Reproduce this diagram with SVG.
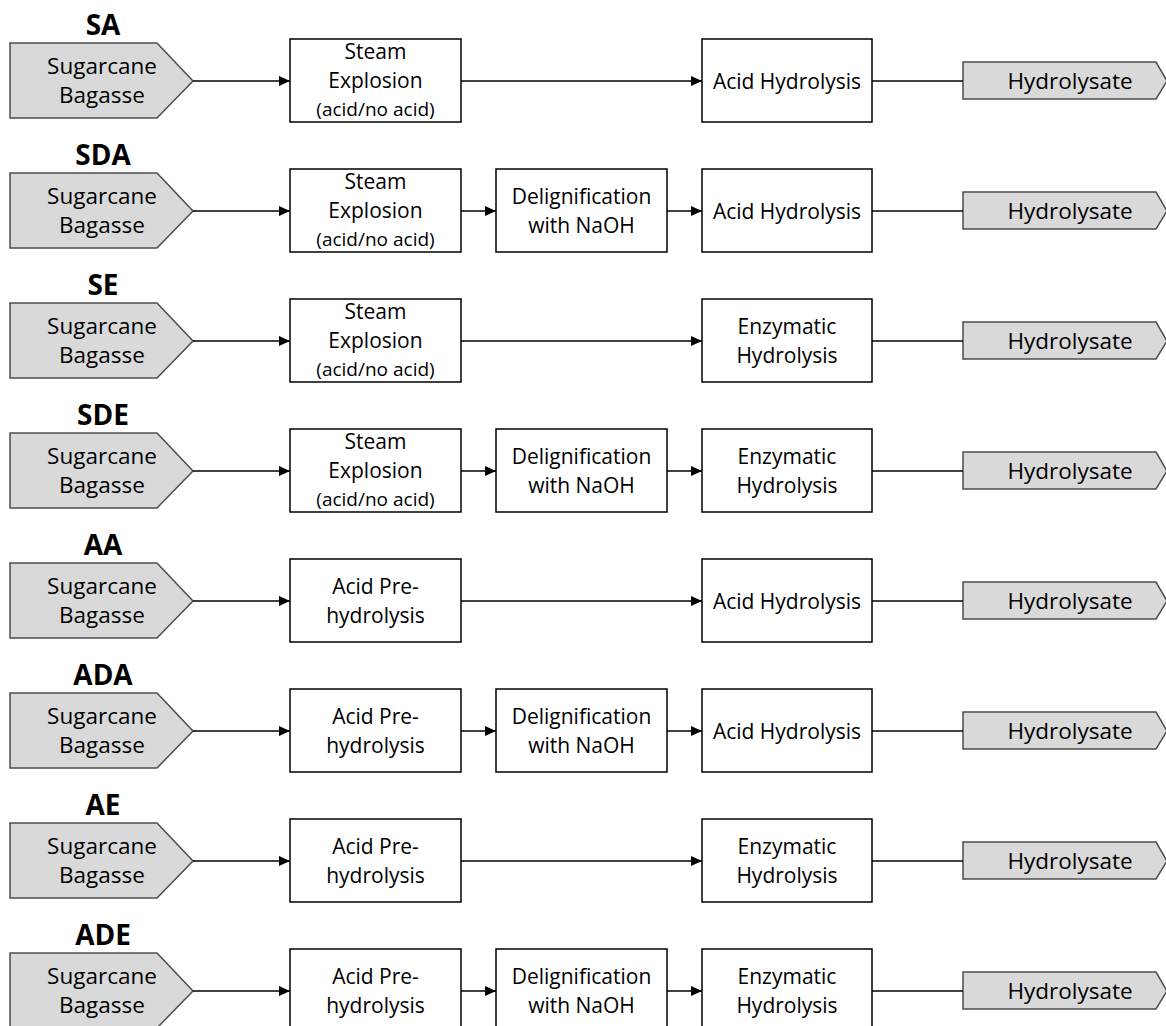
<svg xmlns="http://www.w3.org/2000/svg" width="1166" height="1026" viewBox="0 0 1166 1026">
<defs>
<style>
.lbl{font-family:"Open Sans","Liberation Sans",sans-serif;font-weight:bold;font-size:28px;fill:#000;text-anchor:middle}
.t{font-family:"Open Sans","Liberation Sans",sans-serif;font-size:21px;fill:#000;text-anchor:middle}
.g{font-family:"Open Sans","Liberation Sans",sans-serif;font-size:22.5px;fill:#000;text-anchor:middle}
.s{font-family:"Open Sans","Liberation Sans",sans-serif;font-size:19px;fill:#000;text-anchor:middle}
.src polygon,.snk polygon{fill:#d9d9d9;stroke:#4d4d4d;stroke-width:1.5}
.box rect{fill:#fff;stroke:#000;stroke-width:1.5}
.c line{stroke:#000;stroke-width:1.5;fill:none}
.a{marker-end:url(#arr)}
</style>
<marker id="arr" markerUnits="userSpaceOnUse" markerWidth="11" markerHeight="10" refX="11" refY="5" orient="auto"><path d="M0,0 L11,5 L0,10 z" fill="#000"/></marker>
</defs>
<rect width="1166" height="1026" fill="#fff"/>

<g id="row-sa" transform="translate(0,0)">
<g id="sa-label"><text class="lbl" x="103" y="35">SA</text></g>
<g id="sa-src" class="src"><polygon points="10,43 157,43 193,81 157,118 10,118"/><text class="g" x="102" y="74">Sugarcane</text><text class="g" x="102" y="103">Bagasse</text></g>
<g id="sa-pre" class="box"><rect x="290" y="39" width="171" height="83"/><text class="t" x="375.5" y="59">Steam</text><text class="t" x="375.5" y="88">Explosion</text><text class="s" x="375.5" y="115.5">(acid/no acid)</text></g>
<g id="sa-hyd" class="box"><rect x="702" y="39" width="170" height="83"/><text class="t" x="787" y="88.5">Acid Hydrolysis</text></g>
<g id="sa-out" class="snk"><polygon points="963,62 1156,62 1167,81 1156,99 963,99"/><text class="g" x="1070" y="89">Hydrolysate</text></g>
</g>

<g id="row-sda" transform="translate(0,130)">
<g id="sda-label"><text class="lbl" x="103" y="35">SDA</text></g>
<g id="sda-src" class="src"><polygon points="10,43 157,43 193,81 157,118 10,118"/><text class="g" x="102" y="74">Sugarcane</text><text class="g" x="102" y="103">Bagasse</text></g>
<g id="sda-pre" class="box"><rect x="290" y="39" width="171" height="83"/><text class="t" x="375.5" y="59">Steam</text><text class="t" x="375.5" y="88">Explosion</text><text class="s" x="375.5" y="115.5">(acid/no acid)</text></g>
<g id="sda-del" class="box"><rect x="496" y="39" width="171" height="83"/><text class="t" x="581.5" y="74">Delignification</text><text class="t" x="581.5" y="103">with NaOH</text></g>
<g id="sda-hyd" class="box"><rect x="702" y="39" width="170" height="83"/><text class="t" x="787" y="88.5">Acid Hydrolysis</text></g>
<g id="sda-out" class="snk"><polygon points="963,62 1156,62 1167,81 1156,99 963,99"/><text class="g" x="1070" y="89">Hydrolysate</text></g>
</g>

<g id="row-se" transform="translate(0,260)">
<g id="se-label"><text class="lbl" x="103" y="35">SE</text></g>
<g id="se-src" class="src"><polygon points="10,43 157,43 193,81 157,118 10,118"/><text class="g" x="102" y="74">Sugarcane</text><text class="g" x="102" y="103">Bagasse</text></g>
<g id="se-pre" class="box"><rect x="290" y="39" width="171" height="83"/><text class="t" x="375.5" y="59">Steam</text><text class="t" x="375.5" y="88">Explosion</text><text class="s" x="375.5" y="115.5">(acid/no acid)</text></g>
<g id="se-hyd" class="box"><rect x="702" y="39" width="170" height="83"/><text class="t" x="787" y="74">Enzymatic</text><text class="t" x="787" y="103">Hydrolysis</text></g>
<g id="se-out" class="snk"><polygon points="963,62 1156,62 1167,81 1156,99 963,99"/><text class="g" x="1070" y="89">Hydrolysate</text></g>
</g>

<g id="row-sde" transform="translate(0,390)">
<g id="sde-label"><text class="lbl" x="103" y="35">SDE</text></g>
<g id="sde-src" class="src"><polygon points="10,43 157,43 193,81 157,118 10,118"/><text class="g" x="102" y="74">Sugarcane</text><text class="g" x="102" y="103">Bagasse</text></g>
<g id="sde-pre" class="box"><rect x="290" y="39" width="171" height="83"/><text class="t" x="375.5" y="59">Steam</text><text class="t" x="375.5" y="88">Explosion</text><text class="s" x="375.5" y="115.5">(acid/no acid)</text></g>
<g id="sde-del" class="box"><rect x="496" y="39" width="171" height="83"/><text class="t" x="581.5" y="74">Delignification</text><text class="t" x="581.5" y="103">with NaOH</text></g>
<g id="sde-hyd" class="box"><rect x="702" y="39" width="170" height="83"/><text class="t" x="787" y="74">Enzymatic</text><text class="t" x="787" y="103">Hydrolysis</text></g>
<g id="sde-out" class="snk"><polygon points="963,62 1156,62 1167,81 1156,99 963,99"/><text class="g" x="1070" y="89">Hydrolysate</text></g>
</g>

<g id="row-aa" transform="translate(0,520)">
<g id="aa-label"><text class="lbl" x="103" y="35">AA</text></g>
<g id="aa-src" class="src"><polygon points="10,43 157,43 193,81 157,118 10,118"/><text class="g" x="102" y="74">Sugarcane</text><text class="g" x="102" y="103">Bagasse</text></g>
<g id="aa-pre" class="box"><rect x="290" y="39" width="171" height="83"/><text class="t" x="375.5" y="74">Acid Pre-</text><text class="t" x="375.5" y="103">hydrolysis</text></g>
<g id="aa-hyd" class="box"><rect x="702" y="39" width="170" height="83"/><text class="t" x="787" y="88.5">Acid Hydrolysis</text></g>
<g id="aa-out" class="snk"><polygon points="963,62 1156,62 1167,81 1156,99 963,99"/><text class="g" x="1070" y="89">Hydrolysate</text></g>
</g>

<g id="row-ada" transform="translate(0,650)">
<g id="ada-label"><text class="lbl" x="103" y="35">ADA</text></g>
<g id="ada-src" class="src"><polygon points="10,43 157,43 193,81 157,118 10,118"/><text class="g" x="102" y="74">Sugarcane</text><text class="g" x="102" y="103">Bagasse</text></g>
<g id="ada-pre" class="box"><rect x="290" y="39" width="171" height="83"/><text class="t" x="375.5" y="74">Acid Pre-</text><text class="t" x="375.5" y="103">hydrolysis</text></g>
<g id="ada-del" class="box"><rect x="496" y="39" width="171" height="83"/><text class="t" x="581.5" y="74">Delignification</text><text class="t" x="581.5" y="103">with NaOH</text></g>
<g id="ada-hyd" class="box"><rect x="702" y="39" width="170" height="83"/><text class="t" x="787" y="88.5">Acid Hydrolysis</text></g>
<g id="ada-out" class="snk"><polygon points="963,62 1156,62 1167,81 1156,99 963,99"/><text class="g" x="1070" y="89">Hydrolysate</text></g>
</g>

<g id="row-ae" transform="translate(0,780)">
<g id="ae-label"><text class="lbl" x="103" y="35">AE</text></g>
<g id="ae-src" class="src"><polygon points="10,43 157,43 193,81 157,118 10,118"/><text class="g" x="102" y="74">Sugarcane</text><text class="g" x="102" y="103">Bagasse</text></g>
<g id="ae-pre" class="box"><rect x="290" y="39" width="171" height="83"/><text class="t" x="375.5" y="74">Acid Pre-</text><text class="t" x="375.5" y="103">hydrolysis</text></g>
<g id="ae-hyd" class="box"><rect x="702" y="39" width="170" height="83"/><text class="t" x="787" y="74">Enzymatic</text><text class="t" x="787" y="103">Hydrolysis</text></g>
<g id="ae-out" class="snk"><polygon points="963,62 1156,62 1167,81 1156,99 963,99"/><text class="g" x="1070" y="89">Hydrolysate</text></g>
</g>

<g id="row-ade" transform="translate(0,910)">
<g id="ade-label"><text class="lbl" x="103" y="35">ADE</text></g>
<g id="ade-src" class="src"><polygon points="10,43 157,43 193,81 157,118 10,118"/><text class="g" x="102" y="74">Sugarcane</text><text class="g" x="102" y="103">Bagasse</text></g>
<g id="ade-pre" class="box"><rect x="290" y="39" width="171" height="83"/><text class="t" x="375.5" y="74">Acid Pre-</text><text class="t" x="375.5" y="103">hydrolysis</text></g>
<g id="ade-del" class="box"><rect x="496" y="39" width="171" height="83"/><text class="t" x="581.5" y="74">Delignification</text><text class="t" x="581.5" y="103">with NaOH</text></g>
<g id="ade-hyd" class="box"><rect x="702" y="39" width="170" height="83"/><text class="t" x="787" y="74">Enzymatic</text><text class="t" x="787" y="103">Hydrolysis</text></g>
<g id="ade-out" class="snk"><polygon points="963,62 1156,62 1167,81 1156,99 963,99"/><text class="g" x="1070" y="89">Hydrolysate</text></g>
</g>

<g id="connectors" class="c">
<line class="a" x1="193" y1="81" x2="290" y2="81"/>
<line class="a" x1="461" y1="81" x2="702" y2="81"/>
<line x1="872" y1="81" x2="963" y2="81"/>

<line class="a" x1="193" y1="211" x2="290" y2="211"/>
<line class="a" x1="461" y1="211" x2="496" y2="211"/>
<line class="a" x1="667" y1="211" x2="702" y2="211"/>
<line x1="872" y1="211" x2="963" y2="211"/>

<line class="a" x1="193" y1="341" x2="290" y2="341"/>
<line class="a" x1="461" y1="341" x2="702" y2="341"/>
<line x1="872" y1="341" x2="963" y2="341"/>

<line class="a" x1="193" y1="471" x2="290" y2="471"/>
<line class="a" x1="461" y1="471" x2="496" y2="471"/>
<line class="a" x1="667" y1="471" x2="702" y2="471"/>
<line x1="872" y1="471" x2="963" y2="471"/>

<line class="a" x1="193" y1="601" x2="290" y2="601"/>
<line class="a" x1="461" y1="601" x2="702" y2="601"/>
<line x1="872" y1="601" x2="963" y2="601"/>

<line class="a" x1="193" y1="731" x2="290" y2="731"/>
<line class="a" x1="461" y1="731" x2="496" y2="731"/>
<line class="a" x1="667" y1="731" x2="702" y2="731"/>
<line x1="872" y1="731" x2="963" y2="731"/>

<line class="a" x1="193" y1="861" x2="290" y2="861"/>
<line class="a" x1="461" y1="861" x2="702" y2="861"/>
<line x1="872" y1="861" x2="963" y2="861"/>

<line class="a" x1="193" y1="991" x2="290" y2="991"/>
<line class="a" x1="461" y1="991" x2="496" y2="991"/>
<line class="a" x1="667" y1="991" x2="702" y2="991"/>
<line x1="872" y1="991" x2="963" y2="991"/>
</g>
</svg>
